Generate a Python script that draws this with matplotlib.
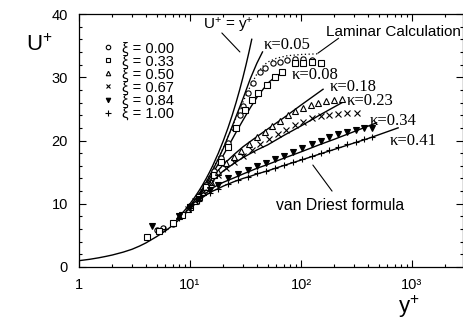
import matplotlib
matplotlib.use("Agg")
import matplotlib.pyplot as plt
from matplotlib.ticker import NullFormatter, MultipleLocator, LogLocator

plt.rcParams['font.family'] = ['Liberation Sans', 'DejaVu Sans']
plt.rcParams['mathtext.fontset'] = 'custom'
plt.rcParams['mathtext.rm'] = 'Liberation Sans'
plt.rcParams['mathtext.it'] = 'Liberation Sans'
plt.rcParams['mathtext.sf'] = 'Liberation Sans'

# ---------------- data ----------------
# common near-wall curve
wall_y = [1, 1.25, 1.5, 1.75, 2, 2.5, 3, 3.5, 4, 5, 6, 7, 8, 9, 10]
wall_u = [1.0, 1.22, 1.45, 1.68, 1.9, 2.35, 2.8, 3.3, 3.8, 4.8, 5.7, 6.6, 7.5, 8.4, 9.2]

# U+ = y+ line
lin_y = [8, 9, 10, 11, 12, 13, 14, 15, 16, 18, 20, 22, 24, 26, 28, 30, 32, 34, 36]
lin_u = [8, 9, 10, 11, 12, 13, 14, 15, 16, 18, 20, 22, 24, 26, 28, 30, 32, 34, 36]

# laminar calculation (dotted)
lam_y = [10, 12, 14, 16, 18, 20, 23, 26, 30, 35, 40, 45, 50, 60, 75, 100, 140]
lam_u = [9.7, 11.6, 13.5, 15.4, 17.2, 18.9, 21.4, 23.6, 26.1, 28.6, 30.5, 31.7, 32.4, 33.0, 33.4, 33.6, 33.7]

# van Driest curves for different kappa
k005_y = [10, 11, 12, 13, 14, 16, 18, 20, 23, 26, 30, 35, 40, 45]
k005_u = [9.6, 10.55, 11.5, 12.45, 13.4, 15.3, 17.1, 18.8, 21.4, 23.8, 26.6, 29.8, 32.2, 34.0]
k008_y = [10, 11, 12, 13, 14, 16, 18, 20, 23, 26, 30, 35, 40, 46, 52, 60, 70]
k008_u = [9.5, 10.4, 11.3, 12.2, 13.1, 14.8, 16.3, 17.7, 19.6, 21.3, 23.2, 25.2, 26.8, 28.2, 29.3, 30.2, 30.8]
k018_y = [10, 11, 12, 13, 14, 16, 18, 20, 25, 30, 40, 50, 70, 100, 158]
k018_u = [9.5, 10.35, 11.2, 12.0, 12.8, 14.2, 15.3, 16.2, 17.8, 19.0, 20.6, 21.8, 23.6, 25.6, 28.1]
k023_y = [10, 11, 12, 13, 14, 16, 18, 20, 25, 30, 40, 50, 70, 100, 150, 235]
k023_u = [9.4, 10.2, 11.0, 11.75, 12.4, 13.6, 14.5, 15.2, 16.4, 17.3, 18.5, 19.3, 20.8, 22.3, 24.1, 26.0]
k034_y = [10, 11, 12, 13, 14, 16, 18, 20, 25, 30, 40, 50, 70, 100, 150, 200, 300, 480]
k034_u = [9.3, 10.05, 10.7, 11.25, 11.7, 12.5, 13.0, 13.4, 14.1, 14.7, 15.6, 16.2, 17.2, 18.2, 19.4, 20.2, 21.4, 22.8]
k041_y = [10, 11, 12, 13, 14, 16, 18, 20, 25, 30, 35, 40, 50, 70, 100, 150, 200, 300, 400, 500, 750]
k041_u = [9.2, 9.9, 10.5, 11.0, 11.4, 12.0, 12.4, 12.8, 13.5, 14.0, 14.35, 14.7, 15.2, 16.05, 16.9, 17.9, 18.6, 19.6, 20.3, 20.9, 22.0]

kappa_labels = ["\u03ba=0.05", "\u03ba=0.08", "\u03ba=0.18", "\u03ba=0.23", "\u03ba=0.34", "\u03ba=0.41"]

# measurements
xi_labels = ["\u03be = 0.00", "\u03be = 0.33", "\u03be = 0.50", "\u03be = 0.67", "\u03be = 0.84", "\u03be = 1.00"]

o_y = [5.0, 5.7, 7, 8.5, 10, 12, 14, 16.5, 19, 22, 25, 28, 30, 33, 37, 42.5, 47, 56, 65, 75, 88, 104, 125]
o_u = [5.8, 6.1, 6.8, 8.2, 9.6, 11.3, 13.0, 15.1, 17.2, 19.6, 22.0, 24.0, 25.4, 27.5, 29.1, 30.8, 31.5, 32.2, 32.4, 32.7, 32.9, 32.9, 32.7]

s_y = [4.1, 5.3, 7, 8.5, 10, 12, 14, 16.5, 19, 22, 26, 31, 36, 41, 49, 58, 67, 88, 104, 125, 150]
s_u = [4.7, 5.7, 6.9, 8.2, 9.5, 11.1, 12.7, 14.6, 16.6, 19.0, 22.0, 24.8, 26.4, 27.5, 28.8, 30.1, 30.9, 32.2, 32.3, 32.4, 32.2]

t_y = [8, 9.5, 11, 13, 15.5, 18, 21, 25, 29, 34, 40, 47, 55, 65, 76, 89, 104, 122, 143, 168, 197, 235]
t_u = [8.0, 9.2, 10.4, 11.9, 13.5, 15.0, 16.4, 17.4, 18.4, 19.5, 20.5, 21.4, 22.3, 23.1, 24.0, 24.6, 25.2, 25.6, 26.0, 26.2, 26.4, 26.6]

x_y = [8, 9.5, 11, 13, 15.5, 18, 21, 25, 30, 36, 43, 52, 62, 74, 88, 105, 125, 150, 180, 215, 260, 320]
x_u = [8.0, 9.2, 10.4, 11.8, 13.3, 14.5, 15.6, 16.6, 17.5, 18.5, 19.4, 20.2, 21.0, 21.7, 22.4, 23.0, 23.5, 23.9, 24.1, 24.2, 24.3, 24.3]

v_y = [4.5, 8, 10, 12, 15, 18, 22, 27, 33, 40, 48, 58, 70, 85, 103, 125, 150, 180, 215, 260, 310, 370, 440]
v_u = [6.5, 8.0, 9.5, 10.8, 12.1, 13.0, 14.0, 14.7, 15.3, 15.9, 16.5, 17.1, 17.6, 18.2, 18.8, 19.4, 19.9, 20.5, 21.0, 21.4, 21.7, 21.9, 22.0]

p_y = [6, 8, 10, 12, 15, 18, 22, 27, 33, 40, 48, 58, 70, 85, 103, 125, 150, 180, 215, 260, 310, 370, 440]
p_u = [6.0, 7.8, 9.3, 10.5, 11.7, 12.4, 13.1, 13.7, 14.3, 14.8, 15.2, 15.7, 16.2, 16.6, 17.1, 17.6, 18.0, 18.5, 18.9, 19.4, 19.8, 20.2, 20.5]

x_ticks = [1, 10, 100, 1000]
x_ticklabels = ["1", "10\u00b9", "10\u00b2", "10\u00b3"]
y_ticks = [0, 10, 20, 30, 40]

# ---------------- figure ----------------
fig = plt.figure(figsize=(4.64, 3.24), dpi=100)
ax = fig.add_axes([79/464, 1-267/324, 384/464, 253/324])
ax.set_xscale('log')
ax.set_xlim(1, 10**(384/111))
ax.set_ylim(0, 40)

lw = 1.0
ax.plot(wall_y, wall_u, color='k', lw=lw)
ax.plot(lin_y, lin_u, color='k', lw=lw)
ax.plot(lam_y, lam_u, color='k', lw=0.9, ls=(0, (1, 2)))
for yy, uu in [(k005_y, k005_u), (k008_y, k008_u), (k018_y, k018_u),
               (k023_y, k023_u), (k034_y, k034_u), (k041_y, k041_u)]:
    ax.plot(yy, uu, color='k', lw=lw)

ms = 3.8
mew = 0.8
h = []
h.append(ax.plot(o_y, o_u, ls='none', marker='o', ms=ms, mfc='white', mec='k', mew=mew)[0])
h.append(ax.plot(s_y, s_u, ls='none', marker='s', ms=ms, mfc='white', mec='k', mew=mew)[0])
h.append(ax.plot(t_y, t_u, ls='none', marker='^', ms=ms, mfc='white', mec='k', mew=mew)[0])
h.append(ax.plot(x_y, x_u, ls='none', marker='x', ms=ms, mec='k', mew=mew)[0])
h.append(ax.plot(v_y, v_u, ls='none', marker='v', ms=ms, mfc='k', mec='k', mew=mew)[0])
h.append(ax.plot(p_y, p_u, ls='none', marker='+', ms=ms + 1, mec='k', mew=mew)[0])

leg = ax.legend(h, xi_labels, loc='upper left', bbox_to_anchor=(0.032, 0.933),
                frameon=False, fontsize=10.5, handlelength=0.9, handletextpad=0.5,
                labelspacing=-0.06, borderpad=0.2, markerscale=0.85)

# ticks
ax.set_xticks(x_ticks)
ax.set_xticklabels(x_ticklabels)
ax.xaxis.set_minor_locator(LogLocator(base=10, subs=range(2, 10)))
ax.xaxis.set_minor_formatter(NullFormatter())
ax.set_yticks(y_ticks)
ax.yaxis.set_minor_locator(MultipleLocator(2))
ax.tick_params(which='both', direction='in', top=True, right=True, labelsize=10.5, width=0.8)
ax.tick_params(which='major', length=5, pad=8)
ax.tick_params(which='minor', length=2.5)
for s in ax.spines.values():
    s.set_linewidth(0.9)

# axis labels
fig.text(39/464, 1-45/324, r"U$^{+}$", fontsize=16, ha='center', va='center')
fig.text(409/464, 1-307/324, r"y$^{+}$", fontsize=16, ha='center', va='center')

# annotations (text + leader lines, in axes fraction)
def leader(p0, p1):
    ax.annotate('', xy=p1, xytext=p0, xycoords='axes fraction', textcoords='axes fraction',
                arrowprops=dict(arrowstyle='-', lw=0.8, color='k', shrinkA=0, shrinkB=0))

ax.text(0.39, 0.955, r"U$^{+}$ = y$^{+}$", transform=ax.transAxes, fontsize=11, ha='center', va='center')
leader((0.372, 0.925), (0.419, 0.850))
ax.text(0.818, 0.929, "Laminar Calculation", transform=ax.transAxes, fontsize=11, ha='center', va='center')
leader((0.676, 0.904), (0.622, 0.845))
ax.text(0.68, 0.245, "van Driest formula", transform=ax.transAxes, fontsize=11.3, ha='center', va='center')
leader((0.659, 0.300), (0.609, 0.403))

kpos = [(0.482, 0.877), (0.555, 0.759), (0.654, 0.713), (0.698, 0.655), (0.758, 0.578), (0.810, 0.498)]
for lab, (fx, fy) in zip(kappa_labels, kpos):
    ax.text(fx, fy, lab, transform=ax.transAxes, fontsize=12,
            family=['Liberation Serif', 'DejaVu Serif'], ha='left', va='center')

fig.savefig("out.png", dpi=100)
